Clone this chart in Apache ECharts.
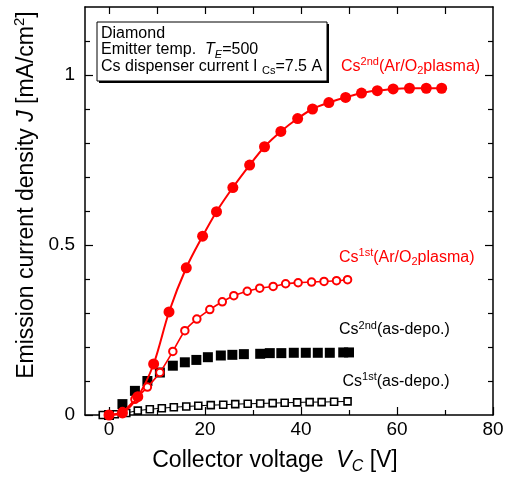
<!DOCTYPE html>
<html>
<head>
<meta charset="utf-8">
<script src="https://cdn.jsdelivr.net/npm/echarts@6/dist/echarts.min.js"></script>
<style>
  html, body { margin: 0; padding: 0; background: #fff; }
  #chart { width: 508px; height: 477px; }
</style>
</head>
<body>
<div id="chart"></div>
<script>
// values: collector voltage [V], current density [mA/cm2]
const plasma2ndV = [0, 2.8, 6.0, 9.3, 12.5, 16.1, 19.5, 22.4, 25.8, 29.3, 32.4, 35.8, 39.3, 42.4, 45.8, 49.3, 52.6, 55.9, 59.2, 62.6, 66.1, 69.3]
const plasma2ndJ = [0, 0.006, 0.054, 0.150, 0.303, 0.433, 0.526, 0.598, 0.669, 0.735, 0.789, 0.834, 0.872, 0.900, 0.919, 0.934, 0.947, 0.954, 0.959, 0.961, 0.961, 0.961]

const plasma1stV = [0, 2.8, 5.4, 8.0, 10.6, 13.3, 15.8, 18.3, 21.0, 23.6, 26.0, 28.8, 31.4, 34.2, 36.8, 39.4, 42.2, 44.8, 47.4, 49.7]
const plasma1stJ = [0, 0.010, 0.046, 0.082, 0.125, 0.187, 0.248, 0.282, 0.310, 0.333, 0.351, 0.364, 0.373, 0.378, 0.386, 0.389, 0.391, 0.393, 0.395, 0.398]

const asDepo2ndV = [0, 2.8, 5.4, 8.0, 10.6, 13.3, 15.8, 18.2, 20.6, 23.3, 25.7, 28.1, 31.5, 33.5, 35.9, 38.5, 41.0, 43.5, 46.0, 48.8, 50.0]
const asDepo2ndJ = [0, 0.032, 0.071, 0.100, 0.125, 0.145, 0.155, 0.162, 0.170, 0.175, 0.177, 0.179, 0.180, 0.182, 0.182, 0.183, 0.183, 0.183, 0.183, 0.184, 0.184]

const asDepo1stV = [-1.3, 1.2, 3.6, 6.0, 8.5, 11.0, 13.5, 16.1, 18.6, 21.2, 23.8, 26.3, 28.9, 31.5, 34.1, 36.6, 39.2, 41.8, 44.3, 46.9, 49.7]
const asDepo1stJ = [0, 0.002, 0.006, 0.013, 0.017, 0.020, 0.023, 0.025, 0.027, 0.029, 0.030, 0.032, 0.033, 0.034, 0.035, 0.036, 0.037, 0.038, 0.038, 0.039, 0.040]

const xLabels = [0, 20, 40, 60, 80]
const xMinor = [10, 30, 50, 70]
const xTop = [0, 10, 20, 30, 40, 50, 60, 70]
const yLabels = [0, 0.5, 1]
const yMinor = [0.1, 0.2, 0.3, 0.4, 0.6, 0.7, 0.8, 0.9, 1.1]
const yRight = [0.5, 1]

const FONT = "'Liberation Sans', Arial, Helvetica, sans-serif"
const RED = '#ff0000'

const zip = (xs, ys) => xs.map((x, i) => [x, ys[i]])

const xRange = { min: -5, max: 80 }
const yRange = { min: 0, max: 1.2 }

function frameAxis(position, range, ticks, tickLen, showLine) {
  return Object.assign({
    type: 'value',
    position: position,
    axisLine: { show: showLine, onZero: false, lineStyle: { color: '#000', width: 1.5 } },
    axisTick: { show: true, inside: true, length: tickLen, customValues: ticks, lineStyle: { color: '#000', width: 1.2 } },
    axisLabel: { show: false },
    splitLine: { show: false }
  }, range)
}

const labelStyle = { color: '#000', fontSize: 19, fontFamily: FONT }

const xMain = frameAxis('bottom', xRange, xLabels, 8, true)
xMain.axisLabel = Object.assign({ show: true, margin: 5, customValues: xLabels }, labelStyle)
xMain.name = '{a|Collector voltage  }{i|V}{is|C}{a| [V]}'
xMain.nameLocation = 'middle'
xMain.nameGap = 32
xMain.nameTextStyle = {
  padding: [0, 28, 0, 0],
  rich: {
    a: { fontSize: 23, fontFamily: FONT, color: '#000', lineHeight: 28 },
    i: { fontSize: 23, fontFamily: FONT, color: '#000', fontStyle: 'italic', lineHeight: 28 },
    is: { fontSize: 16, fontFamily: FONT, color: '#000', fontStyle: 'italic', lineHeight: 12, verticalAlign: 'bottom' }
  }
}

const yMain = frameAxis('left', yRange, yLabels, 8, true)
yMain.axisLabel = Object.assign({ show: true, margin: 10, customValues: yLabels }, labelStyle)
yMain.name = '{a|Emission current density }{i|J}{a| [mA/cm}{s|2}{a|]}'
yMain.nameLocation = 'middle'
yMain.nameGap = 40
yMain.nameTextStyle = {
  padding: [0, 0, 0, 32],
  rich: {
    a: { fontSize: 23, fontFamily: FONT, color: '#000', lineHeight: 28 },
    i: { fontSize: 23, fontFamily: FONT, color: '#000', fontStyle: 'italic', lineHeight: 28 },
    s: { fontSize: 15, fontFamily: FONT, color: '#000', lineHeight: 12, verticalAlign: 'top' }
  }
}

// rich text pieces for the curve captions
const capRich = (color) => ({
  a: { fontSize: 16, fontFamily: FONT, fill: color, lineHeight: 20, verticalAlign: 'middle' },
  s: { fontSize: 11, fontFamily: FONT, fill: color, lineHeight: 9, verticalAlign: 'top' },
  b: { fontSize: 11, fontFamily: FONT, fill: color, lineHeight: 9, verticalAlign: 'bottom' },
  i: { fontSize: 16, fontFamily: FONT, fill: color, fontStyle: 'italic', lineHeight: 20, verticalAlign: 'middle' },
  ib: { fontSize: 11, fontFamily: FONT, fill: color, fontStyle: 'italic', lineHeight: 9, verticalAlign: 'bottom' }
})

function caption(x, y, text, color) {
  return {
    type: 'text', x: x, y: y, z: 100,
    style: { text: text, rich: capRich(color), align: 'left', verticalAlign: 'middle' }
  }
}

const option = {
  animation: false,
  backgroundColor: '#fff',
  grid: { left: 85, right: 15, top: 7, bottom: 62, outerBoundsMode: 'none', containLabel: false },
  xAxis: [
    xMain,
    frameAxis('bottom', xRange, xMinor, 5, false),
    frameAxis('top', xRange, xTop, 7, true)
  ],
  yAxis: [
    yMain,
    frameAxis('left', yRange, yMinor, 5, false),
    frameAxis('right', yRange, yRight, 8, true),
    frameAxis('right', yRange, yMinor, 5, false)
  ],
  series: [
    {
      name: 'Cs1st(as-depo.)', type: 'line', data: zip(asDepo1stV, asDepo1stJ),
      symbol: 'rect', symbolSize: 7, showAllSymbol: true,
      itemStyle: { color: '#fff', borderColor: '#000', borderWidth: 1.6 },
      lineStyle: { color: '#000', width: 1 }, z: 2
    },
    {
      name: 'Cs2nd(as-depo.)', type: 'scatter', data: zip(asDepo2ndV, asDepo2ndJ),
      symbol: 'rect', symbolSize: 10,
      itemStyle: { color: '#000', opacity: 1 }, z: 3
    },
    {
      name: 'Cs1st(Ar/O2plasma)', type: 'line', data: zip(plasma1stV, plasma1stJ),
      smooth: 0.3, symbol: 'circle', symbolSize: 7.5, showAllSymbol: true,
      itemStyle: { color: '#fff', borderColor: RED, borderWidth: 2 },
      lineStyle: { color: RED, width: 1.6 }, z: 4
    },
    {
      name: 'Cs2nd(Ar/O2plasma)', type: 'line', data: zip(plasma2ndV, plasma2ndJ),
      smooth: 0.3, symbol: 'circle', symbolSize: 11, showAllSymbol: true,
      itemStyle: { color: RED },
      lineStyle: { color: RED, width: 2 }, z: 5
    }
  ],
  graphic: [
    // condition box
    { type: 'rect', z: 90, shape: { x: 99, y: 24, width: 230, height: 59 }, style: { fill: '#000' } },
    { type: 'rect', z: 91, shape: { x: 97, y: 22, width: 230, height: 59 }, style: { fill: '#fff', stroke: '#000', lineWidth: 1 } },
    caption(101, 33.5, '{a|Diamond}', '#000'),
    caption(101, 50, '{a|Emitter temp.  }{i|T}{ib|E}{a|=500}', '#000'),
    caption(101, 66.3, '{a|Cs dispenser current I }{b|Cs}{a|=7.5 A}', '#000'),
    // curve captions
    caption(341, 66.3, '{a|Cs}{s|2nd}{a|(Ar/O}{b|2}{a|plasma)}', RED),
    caption(339, 257.5, '{a|Cs}{s|1st}{a|(Ar/O}{b|2}{a|plasma)}', RED),
    caption(339, 330, '{a|Cs}{s|2nd}{a|(as-depo.)}', '#000'),
    caption(342.5, 381.7, '{a|Cs}{s|1st}{a|(as-depo.)}', '#000')
  ]
}

const chart = echarts.init(document.getElementById('chart'))
chart.setOption(option)
</script>
</body>
</html>
